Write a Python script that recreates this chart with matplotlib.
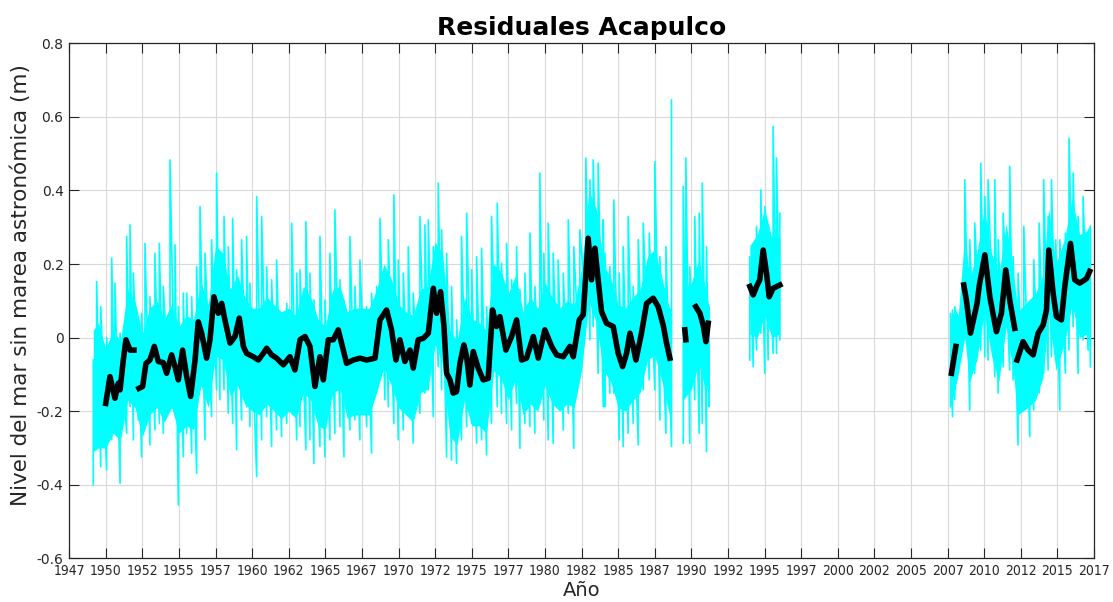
import numpy as np
import matplotlib
matplotlib.use("Agg")
import matplotlib.pyplot as plt

# ---------------- data (decimal years, metres) ----------------
# Hourly residual (cyan): spike high / low envelope samples, four record segments
res1_t = [1949.15, 1949.38, 1949.66, 1950.06, 1950.41, 1950.63, 1950.98, 1951.43, 1951.66, 1951.89,
          1952.23, 1952.45, 1952.68, 1953.02, 1953.36, 1953.66, 1953.93, 1954.39, 1954.73, 1954.96,
          1955.30, 1955.53, 1955.87, 1956.21, 1956.44, 1956.78, 1957.23, 1957.57, 1957.80, 1958.08,
          1958.37, 1958.67, 1958.94, 1959.28, 1959.62, 1959.85, 1960.31, 1960.65, 1960.99, 1961.33,
          1961.67, 1962.01, 1962.36, 1962.70, 1963.04, 1963.27, 1963.67, 1963.95, 1964.22, 1964.63,
          1964.97, 1965.31, 1965.65, 1966.00, 1966.27, 1966.68, 1967.02, 1967.36, 1967.82, 1968.16,
          1968.50, 1968.73, 1969.07, 1969.30, 1969.68, 1969.98, 1970.32, 1970.66, 1971.00, 1971.46,
          1971.80, 1972.03, 1972.37, 1972.71, 1972.94, 1973.28, 1973.62, 1973.96, 1974.30, 1974.65,
          1974.99, 1975.33, 1975.67, 1976.01, 1976.35, 1976.74, 1977.03, 1977.38, 1977.72, 1978.06,
          1978.29, 1978.63, 1978.97, 1979.31, 1979.65, 1979.92, 1980.22, 1980.56, 1980.90, 1981.25,
          1981.59, 1981.97, 1982.38, 1982.79, 1983.07, 1983.29, 1983.63, 1983.98, 1984.09, 1984.43,
          1984.70, 1985.07, 1985.34, 1985.68, 1986.02, 1986.37, 1986.71, 1987.12, 1987.50, 1987.85,
          1988.26, 1988.64]
res1_hi = [-0.06, 0.152, 0.084, 0.00, 0.216, 0.148, 0.012, 0.275, 0.306, 0.175,
           -0.006, 0.066, 0.256, 0.111, 0.229, 0.256, 0.139, 0.483, 0.252, 0.084,
           0.121, 0.121, 0.111, 0.193, 0.356, 0.229, 0.266, 0.447, 0.229, 0.329,
           0.247, 0.324, 0.184, 0.266, 0.275, 0.148, 0.383, 0.329, 0.193, 0.157,
           0.211, 0.048, 0.093, 0.311, 0.175, 0.184, 0.315, 0.175, 0.102, 0.275,
           0.102, 0.229, 0.347, 0.157, 0.102, 0.275, 0.139, 0.211, 0.084, 0.121,
           0.139, 0.324, 0.148, 0.266, 0.388, 0.211, 0.175, 0.247, 0.121, 0.329,
           0.306, 0.320, 0.247, 0.420, 0.293, 0.229, 0.139, 0.048, 0.275, 0.338,
           0.184, 0.220, 0.243, 0.084, 0.329, 0.365, 0.202, 0.256, 0.157, 0.247,
           0.130, 0.175, 0.284, 0.139, 0.447, 0.229, 0.311, 0.229, 0.211, 0.175,
           0.320, 0.247, 0.293, 0.488, 0.429, 0.483, 0.474, 0.320, 0.229, 0.193,
           0.374, 0.175, 0.247, 0.329, 0.139, 0.266, 0.311, 0.284, 0.478, 0.220,
           0.247, 0.646]
res1_lo = [-0.40, -0.30, -0.351, -0.36, -0.278, -0.256, -0.396, -0.260, -0.188, -0.278,
           -0.224, -0.324, -0.233, -0.292, -0.251, -0.233, -0.260, -0.188, -0.206, -0.455,
           -0.324, -0.260, -0.314, -0.369, -0.142, -0.278, -0.215, -0.142, -0.169, -0.142,
           -0.206, -0.233, -0.305, -0.224, -0.188, -0.242, -0.378, -0.278, -0.215, -0.296,
           -0.251, -0.269, -0.233, -0.188, -0.278, -0.242, -0.305, -0.278, -0.342, -0.296,
           -0.324, -0.278, -0.260, -0.242, -0.324, -0.251, -0.224, -0.278, -0.242, -0.314,
           -0.142, -0.097, -0.169, -0.188, -0.233, -0.278, -0.251, -0.179, -0.287, -0.206,
           -0.151, -0.142, -0.215, -0.079, -0.142, -0.324, -0.333, -0.342, -0.278, -0.242,
           -0.233, -0.287, -0.278, -0.319, -0.233, -0.188, -0.206, -0.233, -0.251, -0.179,
           -0.301, -0.233, -0.242, -0.260, -0.179, -0.224, -0.278, -0.287, -0.188, -0.251,
           -0.206, -0.301, -0.097, 0.084, -0.006, 0.030, -0.097, -0.188, -0.188, -0.151,
           -0.151, -0.278, -0.296, -0.260, -0.233, -0.292, -0.142, -0.115, -0.142, -0.224,
           -0.260, -0.296]

res2_t = [1989.44, 1989.62, 1989.89, 1990.23, 1990.53, 1990.74, 1991.03, 1991.21]
res2_hi = [0.411, 0.488, 0.193, 0.329, 0.338, 0.420, 0.247, 0.084]
res2_lo = [-0.287, -0.133, -0.287, -0.169, -0.260, -0.233, -0.310, -0.188]

res3_t = [1993.99, 1994.22, 1994.45, 1994.74, 1995.01, 1995.24, 1995.58, 1995.81, 1996.04]
res3_hi = [0.220, 0.175, 0.302, 0.401, 0.356, 0.284, 0.574, 0.488, 0.338]
res3_lo = [-0.061, -0.079, -0.034, 0.012, -0.097, -0.061, -0.043, -0.043, -0.006]

res4_t = [2007.69, 2007.83, 2007.99, 2008.22, 2008.67, 2009.01, 2009.35, 2009.76, 2010.04, 2010.26,
          2010.72, 2010.95, 2011.29, 2011.74, 2011.97, 2012.31, 2012.70, 2013.11, 2013.38, 2013.75,
          2014.06, 2014.36, 2014.59, 2014.88, 2015.16, 2015.54, 2015.79, 2016.07, 2016.41, 2016.75,
          2017.09, 2017.25]
res4_hi = [0.066, 0.075, 0.084, 0.039, 0.429, 0.266, 0.311, 0.474, 0.383, 0.429,
           0.429, 0.266, 0.338, 0.465, 0.220, 0.175, 0.302, 0.048, 0.211, 0.311,
           0.429, 0.329, 0.429, 0.266, 0.266, 0.284, 0.542, 0.447, 0.329, 0.383,
           0.247, 0.300]
res4_lo = [-0.188, -0.215, -0.169, -0.097, -0.006, -0.197, -0.097, -0.034, -0.052, -0.061,
           -0.106, -0.151, -0.079, -0.088, -0.115, -0.292, -0.188, -0.269, -0.197, -0.151,
           -0.097, -0.088, -0.052, -0.061, -0.197, -0.097, -0.034, 0.030, -0.097, -0.006,
           -0.034, -0.080]

# Dense (solid) part of the hourly residual cloud, four segments
core1_t = [1949.15, 1949.5, 1950.0, 1950.5, 1951.0, 1951.5, 1952.0, 1952.5, 1953.0, 1953.5,
           1954.0, 1954.5, 1955.0, 1955.5, 1956.0, 1956.5, 1957.0, 1957.5, 1958.0, 1958.5,
           1959.0, 1959.5, 1960.0, 1960.5, 1961.0, 1961.5, 1962.0, 1962.5, 1963.0, 1963.5,
           1964.0, 1964.5, 1965.0, 1965.5, 1966.0, 1966.5, 1967.0, 1967.5, 1968.0, 1968.5,
           1969.0, 1969.5, 1970.0, 1970.5, 1971.0, 1971.5, 1972.0, 1972.5, 1973.0, 1973.5,
           1974.0, 1974.5, 1975.0, 1975.5, 1976.0, 1976.5, 1977.0, 1977.5, 1978.0, 1978.5,
           1979.0, 1979.5, 1980.0, 1980.5, 1981.0, 1981.5, 1982.0, 1982.5, 1983.0, 1983.5,
           1984.0, 1984.5, 1985.0, 1985.5, 1986.0, 1986.5, 1987.0, 1987.5, 1988.0, 1988.5,
           1988.64]
core1_lo = [-0.31, -0.30, -0.30, -0.26, -0.28, -0.17, -0.19, -0.27, -0.21, -0.19,
            -0.23, -0.19, -0.26, -0.24, -0.25, -0.13, -0.19, -0.05, -0.06, -0.16,
            -0.13, -0.18, -0.20, -0.21, -0.18, -0.20, -0.22, -0.20, -0.22, -0.15,
            -0.17, -0.24, -0.25, -0.15, -0.14, -0.22, -0.21, -0.21, -0.21, -0.15,
            -0.08, -0.13, -0.19, -0.21, -0.23, -0.15, -0.14, -0.02, -0.07, -0.27,
            -0.29, -0.17, -0.24, -0.24, -0.26, -0.09, -0.11, -0.17, -0.11, -0.21,
            -0.18, -0.20, -0.13, -0.18, -0.20, -0.18, -0.19, -0.09, 0.10, 0.04,
            -0.09, -0.12, -0.19, -0.20, -0.17, -0.15, -0.06, -0.05, -0.12, -0.21,
            -0.22]
core1_hi = [0.02, 0.04, -0.03, 0.02, -0.01, 0.13, 0.10, 0.01, 0.08, 0.10,
            0.05, 0.09, 0.03, 0.06, 0.05, 0.15, 0.09, 0.25, 0.23, 0.13,
            0.17, 0.11, 0.08, 0.08, 0.11, 0.09, 0.07, 0.08, 0.06, 0.14,
            0.11, 0.05, 0.03, 0.13, 0.14, 0.07, 0.08, 0.08, 0.08, 0.13,
            0.20, 0.16, 0.09, 0.07, 0.06, 0.13, 0.14, 0.26, 0.23, 0.02,
            -0.01, 0.11, 0.05, 0.04, 0.02, 0.20, 0.18, 0.12, 0.17, 0.07,
            0.11, 0.08, 0.15, 0.11, 0.08, 0.10, 0.09, 0.19, 0.40, 0.35,
            0.20, 0.16, 0.09, 0.08, 0.11, 0.13, 0.22, 0.24, 0.16, 0.08,
            0.08]
core2_t = [1989.44, 1990.0, 1990.5, 1991.0, 1991.21]
core2_lo = [-0.17, -0.14, -0.07, -0.15, -0.12]
core2_hi = [0.13, 0.15, 0.21, 0.13, 0.08]
core3_t = [1993.99, 1994.5, 1995.0, 1995.5, 1996.04]
core3_lo = [0.01, 0.00, 0.06, 0.00, 0.01]
core3_hi = [0.25, 0.28, 0.35, 0.27, 0.27]
core4_t = [2007.69, 2008.0, 2008.22, 2008.67, 2009.0, 2009.5, 2010.0, 2010.5, 2011.0, 2011.5,
           2012.0, 2012.3, 2013.0, 2013.5, 2014.0, 2014.4, 2014.9, 2015.5, 2016.0, 2016.5,
           2017.0, 2017.25]
core4_lo = [-0.19, -0.14, -0.10, 0.00, -0.12, -0.06, 0.07, -0.05, -0.12, 0.03,
            -0.10, -0.21, -0.19, -0.17, -0.11, 0.06, -0.09, -0.01, 0.09, 0.00,
            0.01, 0.02]
core4_hi = [0.05, 0.08, 0.06, 0.28, 0.16, 0.23, 0.35, 0.23, 0.17, 0.31,
            0.17, 0.07, 0.10, 0.12, 0.17, 0.35, 0.20, 0.27, 0.38, 0.28,
            0.29, 0.31]

# Smoothed residual (black); NaN marks breaks in the record
smooth_t = [1950.00, 1950.29, 1950.63, 1950.86, 1950.98, 1951.20, 1951.38, 1951.66, 1951.93, 1952.10,
            1952.27, 1952.52, 1952.75, 1953.02, 1953.32, 1953.59, 1953.93, 1954.16, 1954.50, 1954.73,
            1954.96, 1955.25, 1955.53, 1955.80, 1956.10, 1956.32, 1956.55, 1956.89, 1957.12, 1957.39,
            1957.69, 1957.92, 1958.14, 1958.49, 1958.83, 1959.12, 1959.40, 1959.62, 1960.08, 1960.42,
            1960.76, 1960.99, 1961.33, 1961.67, 1962.13, 1962.58, 1962.92, 1963.27, 1963.61, 1963.95,
            1964.29, 1964.63, 1964.86, 1965.20, 1965.54, 1965.88, 1966.22, 1966.45, 1966.91, 1967.36,
            1967.82, 1968.39, 1968.73, 1969.18, 1969.52, 1969.82, 1970.09, 1970.43, 1970.78, 1971.00,
            1971.34, 1971.69, 1972.03, 1972.37, 1972.60, 1972.87, 1973.10, 1973.28, 1973.51, 1973.73,
            1973.96, 1974.19, 1974.46, 1974.65, 1974.87, 1975.10, 1975.44, 1975.78, 1976.12, 1976.42,
            1976.69, 1976.92, 1977.33, 1977.72, 1978.06, 1978.40, 1978.74, 1979.20, 1979.54, 1979.99,
            1980.45, 1980.79, 1981.25, 1981.70, 1981.93, 1982.34, 1982.61, 1982.95, 1983.18, 1983.41,
            1983.63, 1983.86, 1984.20, 1984.66, 1985.00, 1985.30, 1985.57, 1985.80, 1986.02, 1986.21,
            1986.59, 1986.94, 1987.39, 1987.73, 1988.07, 1988.30, 1988.53, 1989.00,
            1989.55, 1989.62, 1990.00,
            1990.30, 1990.58, 1990.80, 1990.99, 1991.15, 1992.00,
            1993.99, 1994.22, 1994.45, 1994.67, 1994.90, 1995.13, 1995.31, 1995.58, 1996.04, 2000.00,
            2007.76, 2008.06, 2008.30,
            2008.60, 2008.78, 2009.06, 2009.29, 2009.51, 2009.65, 2010.04, 2010.38, 2010.83, 2011.17,
            2011.47, 2011.74, 2012.08, 2012.16,
            2012.24, 2012.65, 2012.99, 2013.34, 2013.68, 2014.02, 2014.25, 2014.41, 2014.70, 2014.93,
            2015.27, 2015.50, 2015.89, 2016.18, 2016.52, 2016.98, 2017.20]
smooth_v = [-0.179, -0.106, -0.165, -0.124, -0.142, -0.061, -0.006, -0.034, -0.034, np.nan,
            -0.138, -0.133, -0.070, -0.061, -0.024, -0.065, -0.068, -0.097, -0.047, -0.079,
            -0.115, -0.034, -0.106, -0.160, -0.061, 0.043, 0.012, -0.056, -0.006, 0.111,
            0.066, 0.093, 0.048, -0.015, 0.003, 0.053, -0.024, -0.043, -0.052, -0.061,
            -0.043, -0.029, -0.047, -0.056, -0.074, -0.052, -0.088, -0.006, 0.003, -0.024,
            -0.133, -0.052, -0.115, -0.006, -0.006, 0.021, -0.034, -0.070, -0.061, -0.056,
            -0.061, -0.056, 0.048, 0.075, 0.021, -0.061, -0.006, -0.065, -0.034, -0.083,
            -0.006, -0.002, 0.012, 0.134, 0.066, 0.125, 0.030, -0.097, -0.115, -0.151,
            -0.147, -0.070, -0.020, -0.052, -0.129, -0.038, -0.083, -0.115, -0.111, 0.075,
            0.030, 0.057, -0.034, 0.003, 0.048, -0.061, -0.056, 0.003, -0.056, 0.021,
            -0.024, -0.047, -0.052, -0.024, -0.052, 0.048, 0.062, 0.270, 0.157, 0.243,
            0.157, 0.071, 0.039, 0.030, -0.043, -0.079, -0.043, 0.012, -0.024, -0.061,
            0.012, 0.093, 0.107, 0.084, 0.034, -0.015, -0.056, np.nan,
            0.021, -0.006, np.nan,
            0.084, 0.066, 0.034, -0.011, 0.039, np.nan,
            0.139, 0.116, 0.139, 0.157, 0.238, 0.175, 0.111, 0.134, 0.143, np.nan,
            -0.097, -0.024, np.nan,
            0.143, 0.102, 0.012, 0.053, 0.093, 0.139, 0.225, 0.111, 0.016, 0.066,
            0.184, 0.102, 0.025, np.nan,
            -0.061, -0.011, -0.034, -0.047, 0.012, 0.034, 0.075, 0.238, 0.121, 0.057,
            0.048, 0.139, 0.256, 0.157, 0.148, 0.160, 0.180]

tick_years = [1947.5 + 2.5 * k for k in range(29)]
tick_labels = [str(int(np.floor(y))) for y in tick_years]
ytick_vals = [-0.6, -0.4, -0.2, 0, 0.2, 0.4, 0.6, 0.8]
ytick_labels = ["-0.6", "-0.4", "-0.2", "0", "0.2", "0.4", "0.6", "0.8"]

title_text = "Residuales Acapulco"
xlabel_text = "Año"
ylabel_text = "Nivel del mar sin marea astronómica (m)"

# ---------------- figure ----------------
plt.rcParams["font.family"] = ["DejaVu Sans"]
fig = plt.figure(figsize=(11.13, 6.02), dpi=100)
ax = fig.add_axes([0.0621, 0.0726, 0.9209, 0.8555])

cyan = "#00FFFF"
cores = [(core1_t, core1_lo, core1_hi), (core2_t, core2_lo, core2_hi),
         (core3_t, core3_lo, core3_hi), (core4_t, core4_lo, core4_hi)]
for t, lo, hi in cores:
    ax.fill_between(t, lo, hi, color=cyan, lw=0, zorder=2)

segments = [(res1_t, res1_hi, res1_lo), (res2_t, res2_hi, res2_lo),
            (res3_t, res3_hi, res3_lo), (res4_t, res4_hi, res4_lo)]
for t, hi, lo in segments:
    xs = np.repeat(np.asarray(t), 2)
    ys = np.empty(2 * len(t))
    ys[0::2] = lo
    ys[1::2] = hi
    ax.plot(xs, ys, color=cyan, lw=1.2, zorder=2)

ax.plot(smooth_t, smooth_v, color="black", lw=4.0, zorder=3)

ax.set_xlim(1947.5, 2017.5)
ax.set_ylim(-0.6, 0.8)
ax.set_xticks(tick_years)
ax.set_xticklabels(tick_labels, fontstretch="condensed")
ax.set_yticks(ytick_vals)
ax.set_yticklabels(ytick_labels)

axis_col = "#262626"
ax.grid(True, color="#d9d9d9", lw=0.8, zorder=0)
ax.set_axisbelow(True)
ax.tick_params(direction="in", length=7, width=0.8, colors=axis_col, top=True, right=True,
               labelsize=10, pad=4)
for s in ax.spines.values():
    s.set_color(axis_col)
    s.set_linewidth(0.9)

ax.set_title(title_text, fontsize=18, fontweight="bold", pad=6, color="black")
ax.set_xlabel(xlabel_text, fontsize=14, color=axis_col, labelpad=2)
ax.set_ylabel(ylabel_text, fontsize=15.5, color=axis_col, labelpad=4)
ax.yaxis.set_label_coords(-0.037, 0.53)

fig.savefig("out.png", dpi=100)
